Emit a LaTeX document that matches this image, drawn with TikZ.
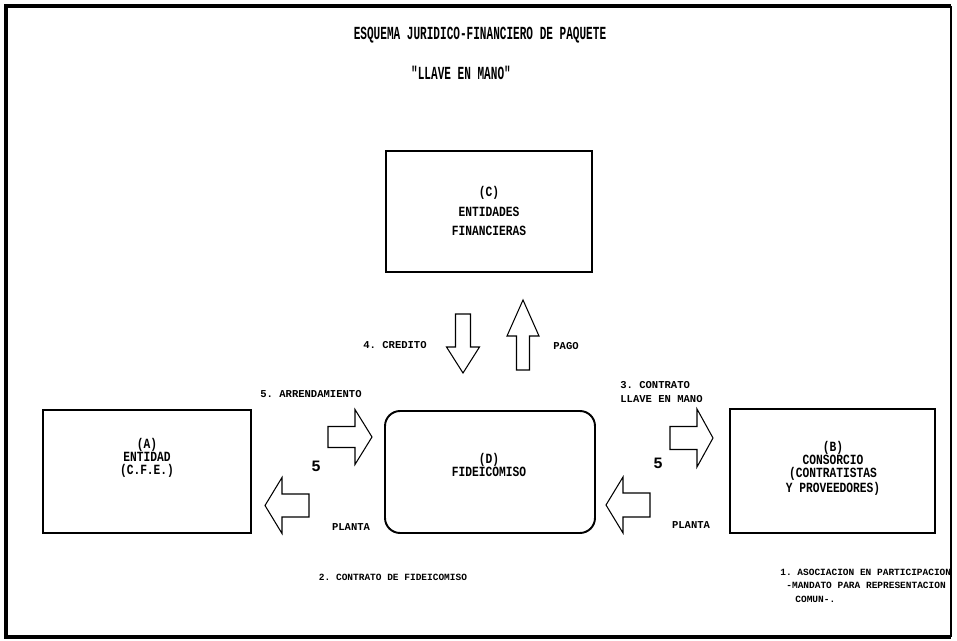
\documentclass[tikz,border=0pt]{standalone}
\usepackage{fontspec}
\setmonofont{Liberation Mono}
\newfontfamily\titlemono[FakeStretch=0.6]{Liberation Mono}
\newfontfamily\boxmono[FakeStretch=0.8]{Liberation Mono}

% block arrow: tail x, tail y, angle, length, head length, shaft half width, head half width
\newcommand{\blockarrow}[7]{%
	\draw[arrowline, shift={(#1,#2)}, rotate=#3]
		(0,-#6) -- ({#4-#5},-#6) -- ({#4-#5},-#7) -- (#4,0)
		-- ({#4-#5},#7) -- ({#4-#5},#6) -- (0,#6) -- cycle;}

\tikzset{
	box/.style={draw, line width=1.1pt, inner sep=0pt},
	boxtext/.style={font=\boxmono\bfseries\fontsize{8}{7.4}\selectfont, align=center, inner sep=0pt},
	lbl/.style={font=\ttfamily\bfseries\fontsize{6}{8}\selectfont, inner sep=0pt},
	note/.style={font=\ttfamily\bfseries\fontsize{5.4}{7.5}\selectfont, inner sep=0pt, align=left},
	bignum/.style={font=\ttfamily\bfseries\fontsize{9}{9}\selectfont, inner sep=0pt},
	arrowline/.style={line width=0.6pt, line join=miter}
}

\begin{document}
\begin{tikzpicture}[x=0.02cm, y=-0.02cm]
	\useasboundingbox (0,0) rectangle (957,641);
	
	% frame
	\draw[line width=1.8pt] (951,6) -- (6,6) -- (6,637) -- (951,637);
	\draw[line width=0.8pt] (951,6) -- (951,637);
	
	% titles
	\node[font=\titlemono\bfseries\fontsize{10.5}{12}\selectfont, inner sep=0pt] (title) at (480,35) {ESQUEMA JURIDICO-FINANCIERO DE PAQUETE};
	\node[font=\titlemono\bfseries\fontsize{10.5}{12}\selectfont, inner sep=0pt] (subtitle) at (461,73) {"LLAVE EN MANO"};
	
	% boxes
	\node[box, minimum width=4.12cm, minimum height=2.42cm] (C) at (489,211.5) {};
	\node[box, minimum width=4.16cm, minimum height=2.46cm] (A) at (147,471.5) {};
	\node[box, rounded corners=0.3cm, minimum width=4.2cm, minimum height=2.44cm] (D) at (490,472) {};
	\node[box, minimum width=4.1cm, minimum height=2.48cm] (B) at (832.5,471) {};
	
	\node[boxtext, font=\boxmono\bfseries\fontsize{8}{11.3}\selectfont] (C-txt) at (489,211) {(C)\\ENTIDADES\\FINANCIERAS};
	\node[boxtext] (A-txt) at (147,458) {(A)\\ENTIDAD\\(C.F.E.)};
	\node[boxtext] (D-txt) at (489,464.5) {(D)\\FIDEICOMISO};
	\node[boxtext] (B-txt) at (833,468.5) {(B)\\CONSORCIO\\(CONTRATISTAS\\Y PROVEEDORES)};
	
	% block arrows
	\blockarrow{463}{314}{-90}{59}{26}{7.5}{16.5}
	\blockarrow{523}{370}{90}{70}{36}{6.5}{16}
	\blockarrow{328}{437}{0}{44}{17}{10.5}{27.5}
	\blockarrow{309}{505.5}{180}{44}{17}{11.5}{28}
	\blockarrow{670}{438}{0}{43}{16}{11.5}{29}
	\blockarrow{650}{505}{180}{44}{17}{12}{28}
	
	% labels
	\node[lbl, anchor=east] (credito) at (427,345) {4. CREDITO};
	\node[lbl, anchor=west] (pago) at (553,346) {PAGO};
	\node[lbl] (arrend) at (311,394) {5. ARRENDAMIENTO};
	\node[lbl, align=left, anchor=west] (llave) at (620,392) {3. CONTRATO\\LLAVE EN MANO};
	\node[lbl] (plantaA) at (351,527) {PLANTA};
	\node[lbl] (plantaB) at (691,525) {PLANTA};
	\node[bignum] (fiveA) at (316,466) {5};
	\node[bignum] (fiveB) at (658,463) {5};
	
	\node[note] (fideicomiso) at (393,577) {2. CONTRATO DE FIDEICOMISO};
	\node[note, anchor=north west] (asociacion) at (780,569) {1. ASOCIACION EN PARTICIPACION\\
		\hspace*{1.2ex}-MANDATO PARA REPRESENTACION\\
		\hspace*{3ex}COMUN-.};
\end{tikzpicture}
\end{document}
